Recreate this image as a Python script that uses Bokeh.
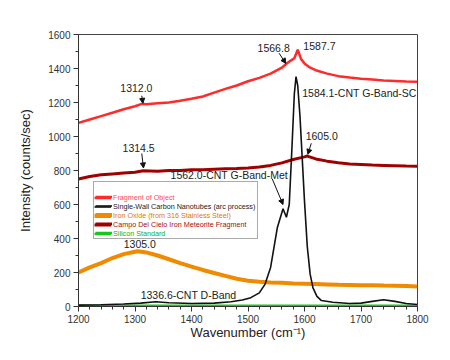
from bokeh.plotting import figure
from bokeh.models import (Legend, LegendItem, SingleIntervalTicker, Arrow, NormalHead, Range1d)
from bokeh.core.properties import value
from bokeh.embed import file_html
from bokeh.resources import INLINE

FONT = "Liberation Sans"

# ---- data ----
red_x = [1200, 1220, 1240, 1260, 1280, 1300, 1312, 1320, 1340, 1360, 1380, 1400, 1420, 1440, 1460,
         1480, 1500, 1520, 1540, 1560, 1567, 1575, 1582, 1588, 1594, 1600, 1610, 1620, 1640, 1660,
         1680, 1700, 1720, 1740, 1760, 1780, 1800]
red_y = [1080, 1100, 1120, 1140, 1160, 1178, 1192, 1190, 1195, 1200, 1210, 1222, 1235, 1258, 1280,
         1300, 1325, 1345, 1370, 1405, 1425, 1445, 1460, 1510, 1455, 1430, 1405, 1390, 1370, 1355,
         1347, 1340, 1335, 1330, 1327, 1324, 1322]

blk_x = [1200, 1240, 1280, 1310, 1336.6, 1360, 1400, 1440, 1470, 1490, 1505, 1520, 1530, 1540, 1552,
         1562, 1568, 1573, 1578, 1582, 1585, 1588, 1592, 1596, 1600, 1605, 1610, 1615, 1622, 1630,
         1650, 1680, 1700, 1720, 1740, 1760, 1780, 1800]
blk_y = [8, 10, 15, 20, 28, 22, 18, 20, 28, 38, 52, 80, 130, 230, 465,
         575, 525, 600, 950, 1250, 1352, 1300, 1120, 870, 620, 350, 190, 110, 60, 35,
         25, 18, 20, 30, 40, 30, 18, 12]

org_x = [1200, 1220, 1240, 1260, 1280, 1300, 1305, 1320, 1340, 1360, 1380, 1400, 1420, 1440, 1460,
         1480, 1500, 1520, 1540, 1560, 1580, 1600, 1620, 1640, 1660, 1680, 1700, 1720, 1740, 1760,
         1780, 1800]
org_y = [200, 230, 255, 285, 308, 322, 325, 318, 300, 278, 255, 235, 215, 197, 180,
         163, 152, 146, 141, 140, 136, 134, 132, 130, 128, 127, 125, 125, 123, 122,
         120, 118]

dkr_x = [1200, 1220, 1240, 1260, 1280, 1300, 1314.5, 1340, 1360, 1380, 1400, 1420, 1440, 1460, 1480,
         1500, 1520, 1540, 1560, 1580, 1600, 1605, 1620, 1640, 1660, 1680, 1700, 1720, 1740, 1760,
         1780, 1800]
dkr_y = [750, 765, 775, 780, 785, 790, 798, 795, 800, 800, 805, 805, 808, 810, 812,
         815, 820, 830, 845, 865, 880, 885, 868, 855, 845, 838, 835, 832, 830, 828,
         826, 825]

grn_x = [1200, 1300, 1400, 1500, 1600, 1700, 1800]
grn_y = [4, 4, 4, 4, 4, 4, 4]

series_names = ["Fragment of Object",
                "Single-Wall Carbon Nanotubes (arc process)",
                "Iron Oxide (from 316 Stainless Steel)",
                "Campo Del Cielo Iron Meteorite Fragment",
                "Silicon Standard"]
series_colors = ["#ff2a2a", "#111111", "#f08a00", "#a00000", "#18c818"]
legend_text_colors = ["#ff4a5a", "#222222", "#e07800", "#a01010", "#10b010"]

ann_text = ["1312.0", "1566.8", "1587.7", "1584.1-CNT G-Band-SC", "1314.5", "1605.0",
            "1562.0-CNT G-Band-Met", "1305.0", "1336.6-CNT D-Band"]
ann_x = [1274, 1517, 1598, 1596, 1278, 1602, 1363, 1280, 1310]
ann_y = [1288, 1523, 1535, 1258, 935, 1005, 775, 370, 65]

arr_x0 = [1312, 1555, 1312, 1612, 1543]
arr_y0 = [1240, 1490, 900, 960, 750]
arr_x1 = [1314, 1567, 1315, 1606, 1562]
arr_y1 = [1195, 1430, 815, 895, 600]

# ---- figure ----
p = figure(output_backend="svg", toolbar_location=None,
           frame_width=339, frame_height=272,
           min_border_left=78, min_border_right=25, min_border_top=34, min_border_bottom=46,
           x_range=Range1d(1200, 1800), y_range=Range1d(0, 1600))
p.background_fill_color = "white"
p.border_fill_color = "white"
p.outline_line_color = "#444444"
p.outline_line_width = 1
p.xgrid.visible = False
p.ygrid.visible = False

r_grn = p.line(grn_x, grn_y, line_color=series_colors[4], line_width=2.5)
r_org = p.line(org_x, org_y, line_color=series_colors[2], line_width=4)
r_dkr = p.line(dkr_x, dkr_y, line_color=series_colors[3], line_width=3)
r_red = p.line(red_x, red_y, line_color=series_colors[0], line_width=2.5)
r_blk = p.line(blk_x, blk_y, line_color=series_colors[1], line_width=1.6)
r_blank = p.line([], [], line_color="#c8eef8", line_width=2)

# annotations
p.text(x=ann_x, y=ann_y, text=ann_text, text_font=value(FONT), text_font_size="10.5px",
       text_baseline="middle", text_align="left", text_color="#222222")
for i in range(len(arr_x0)):
    p.add_layout(Arrow(end=NormalHead(size=5, fill_color="#111111", line_color="#111111"),
                       x_start=arr_x0[i], y_start=arr_y0[i], x_end=arr_x1[i], y_end=arr_y1[i],
                       line_color="#111111", line_width=1))

# axes
p.xaxis.ticker = SingleIntervalTicker(interval=100, num_minor_ticks=5)
p.yaxis.ticker = SingleIntervalTicker(interval=200, num_minor_ticks=2)
for ax in (p.xaxis[0], p.yaxis[0]):
    ax.axis_line_color = "#333333"
    ax.major_tick_line_color = "#333333"
    ax.minor_tick_line_color = "#333333"
    ax.major_tick_in = 0
    ax.major_tick_out = 5
    ax.minor_tick_in = 0
    ax.minor_tick_out = 3
    ax.major_label_text_font = FONT
    ax.major_label_text_font_size = "10px"
    ax.major_label_text_color = "#333333"
    ax.axis_label_text_font = FONT
    ax.axis_label_text_font_size = "13px"
    ax.axis_label_text_font_style = "normal"
    ax.axis_label_text_color = "#222222"
p.xaxis.axis_label = "Wavenumber (cm\u207b\u00b9)"
p.yaxis.axis_label = "Intensity (counts/sec)"
p.xaxis.major_label_standoff = 3
p.xaxis.axis_label_standoff = -1
p.yaxis.major_label_standoff = 3
p.yaxis.axis_label_standoff = 12

# legend: framed box (text hidden) + one coloured-text overlay per row
ROW_H = 9
PAD = 1
LX, LB = 15, 67
renderers = [r_red, r_blk, r_org, r_dkr, r_grn]
main_items = [LegendItem(label=" ", renderers=[r_blank])] + \
             [LegendItem(label=series_names[i], renderers=[renderers[i]]) for i in range(5)]
common = dict(label_text_font=FONT, label_text_font_size="7.2px",
              label_height=ROW_H, glyph_height=ROW_H, glyph_width=17, label_standoff=2,
              spacing=0, padding=PAD, margin=0)
main_leg = Legend(items=main_items, location=(LX, LB), label_text_alpha=0,
                  border_line_color="#555555", border_line_width=1,
                  background_fill_color="white", background_fill_alpha=1, **common)
p.add_layout(main_leg, "center")
top = LB + 6 * ROW_H + 2 * PAD
for i in range(5):
    k = i + 1
    bottom = top - k * ROW_H - (ROW_H + 2 * PAD)
    lg = Legend(items=[LegendItem(label=series_names[i], renderers=[renderers[i]])],
                location=(LX, bottom), label_text_color=legend_text_colors[i],
                border_line_alpha=0, background_fill_alpha=0, **common)
    p.add_layout(lg, "center")

html = file_html(p, INLINE)
open("out.html", "w").write(html)
